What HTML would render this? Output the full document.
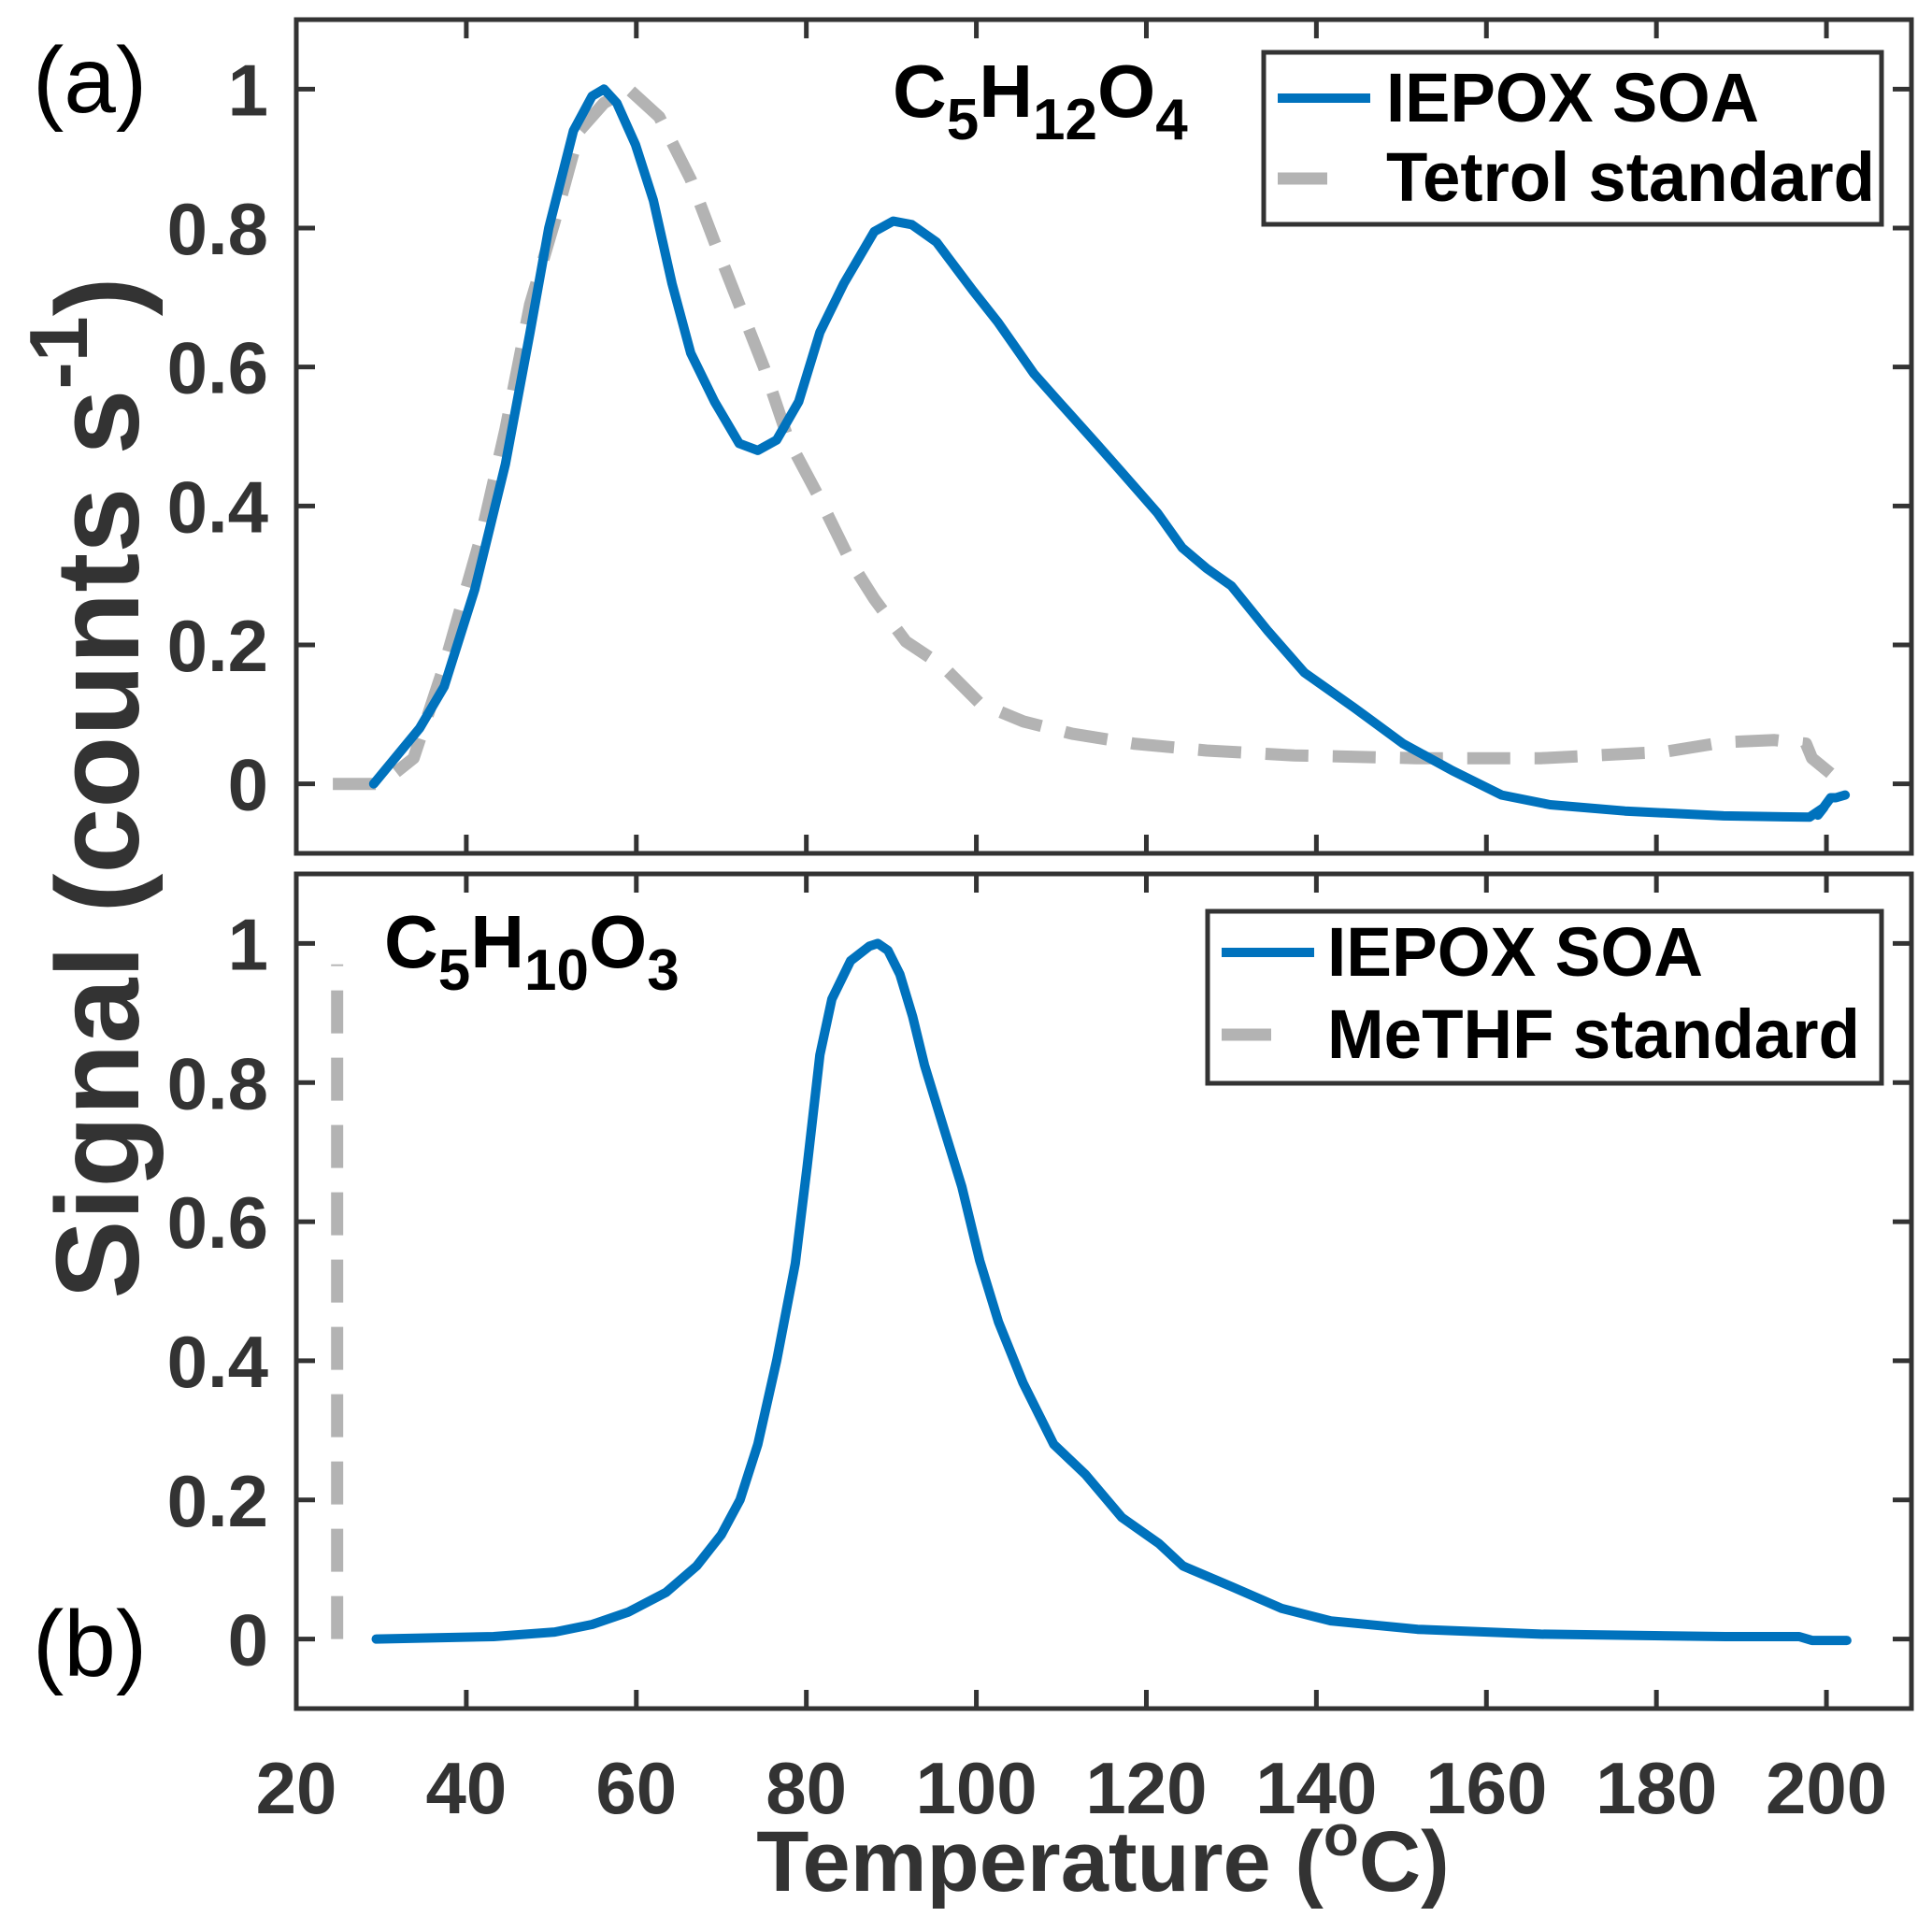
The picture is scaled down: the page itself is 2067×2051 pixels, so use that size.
<!DOCTYPE html>
<html><head><meta charset="utf-8">
<style>
html,body{margin:0;padding:0;background:#fff;}
svg{display:block;font-family:"Liberation Sans",Arial,sans-serif;}
</style></head>
<body>
<svg id="chart" width="2067" height="2051" viewBox="0 0 2067 2051" xmlns="http://www.w3.org/2000/svg">
<rect width="2067" height="2051" fill="#fff"/>
<g id="plots"></g>
<text x="35" y="120" font-size="100" fill="#000">(a)</text>
<text x="35" y="1793" font-size="100" fill="#000">(b)</text>
<text transform="translate(148,843) rotate(-90)" text-anchor="middle" font-size="126" font-weight="bold" fill="#333">Signal (counts s<tspan font-size="88" dy="-55">-1</tspan><tspan dy="55">)</tspan></text>
<text x="1180" y="2023" text-anchor="middle" font-size="92" font-weight="bold" fill="#333">Temperature (<tspan font-size="62" dy="-38">o</tspan><tspan dy="38">C)</tspan></text>
<text x="955" y="125" font-size="80" font-weight="bold" fill="#000">C<tspan font-size="62" dy="24">5</tspan><tspan dy="-24">H</tspan><tspan font-size="62" dy="24">12</tspan><tspan dy="-24">O</tspan><tspan font-size="62" dy="24">4</tspan></text>
<text x="411" y="1035" font-size="80" font-weight="bold" fill="#000">C<tspan font-size="62" dy="24">5</tspan><tspan dy="-24">H</tspan><tspan font-size="62" dy="24">10</tspan><tspan dy="-24">O</tspan><tspan font-size="62" dy="24">3</tspan></text>
<g>
<rect x="1352" y="56" width="661" height="184" fill="#fff" stroke="#333" stroke-width="5"/>
<line x1="1367" y1="105" x2="1466" y2="105" stroke="#0072BD" stroke-width="10"/>
<line x1="1367" y1="191" x2="1420" y2="191" stroke="#b3b3b3" stroke-width="13"/>
<text x="1483" y="130" font-size="74" font-weight="bold" textLength="399" lengthAdjust="spacingAndGlyphs">IEPOX SOA</text>
<text x="1483" y="215" font-size="74" font-weight="bold" textLength="523" lengthAdjust="spacingAndGlyphs">Tetrol standard</text>
</g>
<g>
<rect x="1292" y="975" width="721" height="184" fill="#fff" stroke="#333" stroke-width="5"/>
<line x1="1307" y1="1019" x2="1406" y2="1019" stroke="#0072BD" stroke-width="10"/>
<line x1="1307" y1="1107" x2="1360" y2="1107" stroke="#b3b3b3" stroke-width="13"/>
<text x="1420" y="1044" font-size="74" font-weight="bold" textLength="402" lengthAdjust="spacingAndGlyphs">IEPOX SOA</text>
<text x="1420" y="1132" font-size="74" font-weight="bold" textLength="570" lengthAdjust="spacingAndGlyphs">MeTHF standard</text>
</g>
</svg>
<script>
const xTicks = [20,40,60,80,100,120,140,160,180,200];
const yTicks = [0,0.2,0.4,0.6,0.8,1];
const yTickLabels = ["0","0.2","0.4","0.6","0.8","1"];
const aIepoxT = [29.1,31.6,34.5,37.4,41,44.6,47.5,49.7,52.6,54.8,56.2,57.7,59.9,62,64.2,66.4,69.2,72.1,74.3,76.5,79.1,81.6,84.4,88,90.2,92.4,95.3,99.6,102.5,106.8,109.7,114.1,117,121.3,124.2,127.1,130,134.3,138.6,144.4,150.2,156,161.8,167.5,176.3,187.9,198,199.7,199.0,200.5,201.1,202.2];
const aIepoxY = [0,0.037,0.08,0.14,0.28,0.46,0.65,0.8,0.94,0.99,1,0.98,0.92,0.84,0.72,0.62,0.55,0.49,0.48,0.495,0.55,0.65,0.72,0.795,0.81,0.805,0.78,0.71,0.665,0.59,0.55,0.49,0.45,0.39,0.34,0.31,0.285,0.22,0.16,0.11,0.058,0.019,-0.016,-0.03,-0.039,-0.046,-0.048,-0.034,-0.045,-0.02,-0.02,-0.016];
const aTetrolT = [24.3,30,33.8,37.4,41.7,44.6,47.5,50.4,53.3,56.2,59.1,62.7,66.4,69.2,72.1,75,77.9,81.6,85.2,88,91.7,96,100.4,105.5,111.3,118.5,127.1,137.4,151.8,166.4,180.9,187.9,193.9,197.6,198.3,200.4,201.7];
const aTetrolY = [0,0,0.037,0.17,0.355,0.51,0.69,0.81,0.94,0.98,1,0.96,0.87,0.78,0.69,0.6,0.495,0.41,0.32,0.266,0.205,0.17,0.116,0.09,0.072,0.058,0.048,0.041,0.037,0.037,0.046,0.06,0.063,0.058,0.037,0.016,0.002];
const bIepoxT = [29.4,43.2,50.4,54.8,59.1,63.5,67.1,70,72.2,74.3,76.5,78.7,80.1,81.6,83,85.2,87.4,88.4,89.6,91,92.5,93.9,96.1,98.3,100.4,102.6,105.5,109.1,112.8,117.1,121.5,124.3,130.1,135.9,141.7,151.9,166.4,188.1,196.8,198.3,202.4];
const bIepoxY = [0,0.0035,0.01,0.021,0.039,0.067,0.105,0.15,0.2,0.28,0.4,0.54,0.68,0.84,0.92,0.975,0.996,1,0.99,0.956,0.895,0.825,0.737,0.65,0.544,0.456,0.368,0.28,0.237,0.175,0.137,0.105,0.075,0.044,0.026,0.014,0.007,0.0035,0.0035,-0.002,-0.002];
const bMethfT = [24.8,24.8];
const bMethfY = [0,0.97];

const NS = "http://www.w3.org/2000/svg";
const X0 = 317, X1 = 2045, XMIN = 20, XMAX = 210;
function sx(t){ return X0 + (t - XMIN) / (XMAX - XMIN) * (X1 - X0); }
function makeY(top, bottom){ return v => bottom - (v + 0.1) / 1.2 * (bottom - top); }
const plots = document.getElementById('plots');
function el(tag, attrs, parent){ const e = document.createElementNS(NS, tag); for (const k in attrs) e.setAttribute(k, attrs[k]); (parent||plots).appendChild(e); return e; }

function panel(name, top, bottom, series, showX){
  const sy = makeY(top, bottom);
  const g = el('g', {});
  
  
  series.forEach(s => {
    const d = s.t.map((t,i) => (i ? 'L' : 'M') + sx(t).toFixed(1) + ' ' + sy(s.y[i]).toFixed(1)).join(' ');
    const p = el('path', {d: d, fill: 'none', stroke: s.color, 'stroke-width': s.w, 'stroke-linejoin': 'round', 'stroke-linecap': s.dash ? 'butt' : 'round'}, g);
    if (s.dash) p.setAttribute('stroke-dasharray', s.dash);
    
    
  });
  const frame = el('rect', {x: X0, y: top, width: X1 - X0, height: bottom - top, fill: 'none', stroke: '#333', 'stroke-width': 5}, g);
  
  
  xTicks.forEach(t => {
    const x = sx(t);
    el('line', {x1: x, y1: bottom, x2: x, y2: bottom - 20, stroke: '#333', 'stroke-width': 5}, g);
    el('line', {x1: x, y1: top, x2: x, y2: top + 20, stroke: '#333', 'stroke-width': 5}, g);
    if (showX) {
      const tx = el('text', {x: x, y: 1940, 'text-anchor': 'middle', 'font-size': 78, 'font-weight': 'bold', fill: '#333'}, g);
      tx.textContent = t;
      
      
    }
  });
  yTicks.forEach((v,i) => {
    const y = sy(v);
    el('line', {x1: X0, y1: y, x2: X0 + 20, y2: y, stroke: '#333', 'stroke-width': 5}, g);
    el('line', {x1: X1, y1: y, x2: X1 - 20, y2: y, stroke: '#333', 'stroke-width': 5}, g);
    const ty = el('text', {x: 287, y: y + 28, 'text-anchor': 'end', 'font-size': 78, 'font-weight': 'bold', fill: '#333'}, g);
    ty.textContent = yTickLabels[i];
    
    
  });
}
panel('panel-a', 21, 913, [
  {name: 'tetrol-standard-line', t: aTetrolT, y: aTetrolY, color: '#b3b3b3', w: 13, dash: '46 26'},
  {name: 'iepox-soa-line-a', t: aIepoxT, y: aIepoxY, color: '#0072BD', w: 10}
], false);
panel('panel-b', 935, 1828, [
  {name: 'methf-standard-line', t: bMethfT, y: bMethfY, color: '#b3b3b3', w: 13, dash: '46 26'},
  {name: 'iepox-soa-line-b', t: bIepoxT, y: bIepoxY, color: '#0072BD', w: 10}
], true);
</script>
</body></html>
